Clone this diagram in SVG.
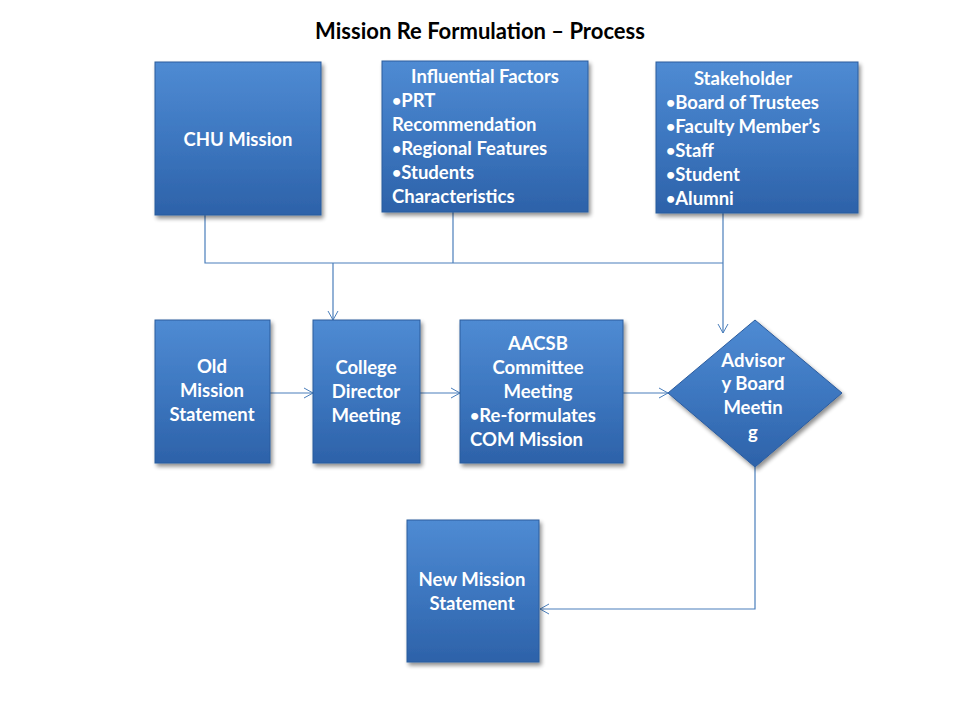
<svg xmlns="http://www.w3.org/2000/svg" width="960" height="720" viewBox="0 0 960 720">
<defs>
<linearGradient id="g" x1="0" y1="0" x2="0" y2="1">
<stop offset="0" stop-color="#4f8bd3"/>
<stop offset="0.5" stop-color="#3d77c0"/>
<stop offset="1" stop-color="#2d62a9"/>
</linearGradient>
<filter id="sh" x="-10%" y="-10%" width="130%" height="130%">
<feGaussianBlur in="SourceAlpha" stdDeviation="2"/>
<feOffset dx="2" dy="3" result="b"/>
<feComponentTransfer><feFuncA type="linear" slope="0.45"/></feComponentTransfer>
<feMerge><feMergeNode/><feMergeNode in="SourceGraphic"/></feMerge>
</filter>
<marker id="arr" markerWidth="12" markerHeight="12" refX="10" refY="6" orient="auto" markerUnits="userSpaceOnUse">
<path d="M1,1 L10,6 L1,11" fill="none" stroke="#4a7ebb" stroke-width="1"/>
</marker>
</defs>
<style>
.box{fill:url(#g);stroke:#2b5c9e;stroke-width:1;filter:url(#sh)}
.t{font-family:Lato,"Open Sans","Liberation Sans",sans-serif;font-weight:bold;font-size:18.5px;fill:#ffffff}
.c{text-anchor:middle}
.b{font-size:16px}
.title{font-family:Lato,"Open Sans","Liberation Sans",sans-serif;font-weight:bold;font-size:22px;fill:#000000;text-anchor:middle}
.ln{fill:none;stroke:#4a7ebb;stroke-width:1.2}
</style>
<rect width="960" height="720" fill="#ffffff"/>
<text class="title" x="480" y="39">Mission Re Formulation – Process</text>

<g id="connectors">
<path class="ln" d="M205,215 V263 H723"/>
<path class="ln" d="M453,212 V263"/>
<path class="ln" d="M723,213 V333" marker-end="url(#arr)"/>
<path class="ln" d="M333,263 V320" marker-end="url(#arr)"/>
<path class="ln" d="M270,393 H313" marker-end="url(#arr)"/>
<path class="ln" d="M420,393 H460" marker-end="url(#arr)"/>
<path class="ln" d="M623,393 H668" marker-end="url(#arr)"/>
<path class="ln" d="M755,467 V609 H540" marker-end="url(#arr)"/>
</g>

<g id="chu">
<rect class="box" x="155" y="62" width="166" height="153"/>
<text class="t c" x="238" y="146">CHU Mission</text>
</g>

<g id="influential">
<rect class="box" x="382" y="61" width="206" height="151"/>
<text class="t c" x="485" y="83">Influential Factors</text>
<text class="t" x="392" y="107"><tspan class="b" dy="-1">•</tspan><tspan dy="1">PRT</tspan></text>
<text class="t" x="392" y="131">Recommendation</text>
<text class="t" x="392" y="155"><tspan class="b" dy="-1">•</tspan><tspan dy="1">Regional Features</tspan></text>
<text class="t" x="392" y="179"><tspan class="b" dy="-1">•</tspan><tspan dy="1">Students</tspan></text>
<text class="t" x="392" y="203">Characteristics</text>
</g>

<g id="stakeholder">
<rect class="box" x="656" y="62" width="202" height="151"/>
<text class="t c" x="743" y="85">Stakeholder</text>
<text class="t" x="666" y="109"><tspan class="b" dy="-1">•</tspan><tspan dy="1">Board of Trustees</tspan></text>
<text class="t" x="666" y="133"><tspan class="b" dy="-1">•</tspan><tspan dy="1">Faculty Member’s</tspan></text>
<text class="t" x="666" y="157"><tspan class="b" dy="-1">•</tspan><tspan dy="1">Staff</tspan></text>
<text class="t" x="666" y="181"><tspan class="b" dy="-1">•</tspan><tspan dy="1">Student</tspan></text>
<text class="t" x="666" y="205"><tspan class="b" dy="-1">•</tspan><tspan dy="1">Alumni</tspan></text>
</g>

<g id="old">
<rect class="box" x="155" y="320" width="115" height="143"/>
<text class="t c" x="212" y="373">Old</text>
<text class="t c" x="212" y="397">Mission</text>
<text class="t c" x="212" y="421">Statement</text>
</g>

<g id="college">
<rect class="box" x="313" y="320" width="107" height="143"/>
<text class="t c" x="366" y="374">College</text>
<text class="t c" x="366" y="398">Director</text>
<text class="t c" x="366" y="422">Meeting</text>
</g>

<g id="aacsb">
<rect class="box" x="460" y="320" width="163" height="143"/>
<text class="t c" x="538" y="350">AACSB</text>
<text class="t c" x="538" y="374">Committee</text>
<text class="t c" x="538" y="398">Meeting</text>
<text class="t" x="470" y="422"><tspan class="b" dy="-1">•</tspan><tspan dy="1">Re-formulates</tspan></text>
<text class="t" x="470" y="446">COM Mission</text>
</g>

<g id="advisory">
<polygon class="box" points="755,320 842,393 755,467 668,393"/>
<text class="t c" x="753" y="367">Advisor</text>
<text class="t c" x="753" y="390">y Board</text>
<text class="t c" x="753" y="414">Meetin</text>
<text class="t c" x="753" y="439">g</text>
</g>

<g id="newmission">
<rect class="box" x="407" y="520" width="132" height="142"/>
<text class="t c" x="472" y="586">New Mission</text>
<text class="t c" x="472" y="610">Statement</text>
</g>
</svg>
